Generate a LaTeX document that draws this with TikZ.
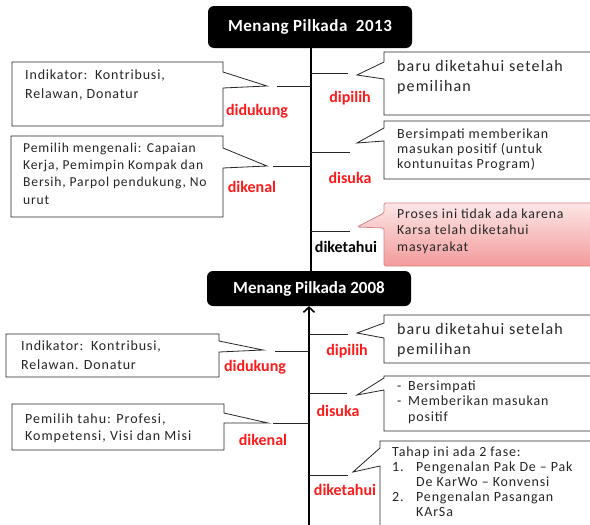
\documentclass[tikz,border=0pt]{standalone}
\usepackage{fontspec}
\setmainfont{Carlito}
\newfontfamily\spacedfont[LetterSpace=6]{Carlito}
\newfontfamily\widefont[LetterSpace=7]{Carlito}
\newfontfamily\titlefont[LetterSpace=3]{Carlito}
\newfontfamily\serifpart{Liberation Serif}
\usetikzlibrary{arrows.meta}
\definecolor{inkgray}{HTML}{262626}
\definecolor{labelred}{HTML}{FF1A1A}
\definecolor{pinktop}{HTML}{FDE6E6}
\definecolor{pinkbottom}{HTML}{F29B9B}
\definecolor{pinkedge}{HTML}{D98486}
\begin{document}
\begin{tikzpicture}[x=1pt,y=-1pt,
  callbox/.style={draw=inkgray, line width=0.8pt, fill=white},
  pinkbox/.style={draw=pinkedge, line width=0.8pt, top color=pinktop, bottom color=pinkbottom},
  boxtext/.style={anchor=north west, inner sep=0pt, align=left, text=inkgray, font=\spacedfont\fontsize{14}{17}\selectfont},
  bigtext/.style={boxtext, font=\widefont\fontsize{16}{20}\selectfont},
  redlabel/.style={text=labelred, font=\bfseries\fontsize{16}{16}\selectfont, inner sep=0pt},
  blacklabel/.style={redlabel, text=black},
  branch/.style={draw=inkgray, line width=0.9pt},
  spine/.style={draw=black, line width=2.2pt},
  titlebox/.style={fill=black, rounded corners=6pt, text=white, inner sep=0pt,
    font=\bfseries\fontsize{17}{18}\selectfont},
]
\useasboundingbox (0,0) rectangle (590,525);
\clip (0,0) rectangle (590,525);

% fragment of the line above
\node[font=\serifpart\fontsize{18}{18}\selectfont, inner sep=0pt] (gfrag) at (134,-7) {g};

% ---------- title boxes ----------
\node[titlebox, minimum width=204, minimum height=42] (t2013) at (310,27) {\titlefont Menang Pilkada\enspace 2013};
\node[titlebox, minimum width=204, minimum height=35] (t2008) at (309,288.5) {Menang Pilkada 2008};

% ---------- spines ----------
\coordinate (upTop) at (311,48);
\coordinate (upBot) at (311,271);
\coordinate (loBot) at (309,530);
\draw[spine] (upTop) -- (upBot);
\draw[spine, -{Straight Barb[length=5pt,width=11pt,line width=1.6pt]}] (loBot) -- (t2008.south);

% ---------- upper section: branches ----------
\coordinate (a1) at (311,86);  \coordinate (a1e) at (277,86);
\coordinate (a2) at (311,166); \coordinate (a2e) at (273,166);
\coordinate (a3) at (311,73);  \coordinate (a3e) at (348,73);
\coordinate (a4) at (311,152); \coordinate (a4e) at (350,152);
\coordinate (a5) at (311,231); \coordinate (a5e) at (350,231);
\foreach \s in {1,...,5} \draw[branch] (a\s) -- (a\s e);

% ---------- upper section: callouts ----------
\draw[callbox] (12,62) -- (223,62) -- (223,72) -- (267,86) -- (223,88) -- (223,126) -- (12,126) -- cycle;
\node[boxtext, font=\spacedfont\fontsize{14}{19}\selectfont] (u1) at (25,70) {Indikator:\, Kontribusi,\\Relawan, Donatur};

\draw[callbox] (11,136) -- (223,136) -- (223,148) -- (267,166) -- (223,168) -- (223,217) -- (11,217) -- cycle;
\node[boxtext, font=\spacedfont\fontsize{13.6}{17.3}\selectfont] (u2) at (23,142.5) {Pemilih mengenali: Capaian\\Kerja, Pemimpin Kompak dan\\Bersih, Parpol pendukung, No\\urut};

\draw[callbox] (600,52) -- (384,52) -- (384,62) -- (357,75) -- (384,79) -- (384,115) -- (600,115);
\node[bigtext] (u3) at (397,60) {baru diketahui setelah\\pemilihan};

\draw[callbox] (600,121) -- (384,121) -- (384,128) -- (357,143) -- (384,141) -- (384,179) -- (600,179);
\node[boxtext, font=\spacedfont\fontsize{14}{15}\selectfont] (u4) at (397,128.5) {Bersimpati memberikan\\masukan positif (untuk\\kontunuitas Program)};

\draw[pinkbox, rounded corners=1.5pt] (600,203) -- (384,203) -- (384,213) -- (357,227) -- (384,228) -- (384,266) -- (600,266);
\node[boxtext, font=\spacedfont\fontsize{13.8}{16.5}\selectfont] (u5) at (397,208.5) {Proses ini tidak ada karena\\Karsa telah diketahui\\masyarakat};

% ---------- upper section: labels ----------
\node[redlabel] (lDidukungA) at (257,111) {didukung};
\node[redlabel] (lDipilihA) at (350,98) {dipilih};
\node[redlabel] (lDikenalA) at (252,187) {dikenal};
\node[redlabel] (lDisukaA) at (350,178) {disuka};
\node[blacklabel] (lDiketahuiA) at (346,247) {diketahui};

% ---------- lower section: branches ----------
\coordinate (b1) at (309,351); \coordinate (b1e) at (275,351);
\coordinate (b2) at (309,423); \coordinate (b2e) at (273,423);
\coordinate (b3) at (309,334); \coordinate (b3e) at (348,334);
\coordinate (b4) at (309,393); \coordinate (b4e) at (347,393);
\coordinate (b5) at (309,475); \coordinate (b5e) at (348,475);
\foreach \s in {1,...,5} \draw[branch] (b\s) -- (b\s e);

% ---------- lower section: callouts ----------
\draw[callbox] (6,334) -- (219,334) -- (219,341) -- (263,350) -- (219,352) -- (219,377) -- (6,377) -- cycle;
\node[boxtext, font=\spacedfont\fontsize{14}{19}\selectfont] (d1) at (21,341) {Indikator:\, Kontribusi,\\Relawan. Donatur};

\draw[callbox] (12,404) -- (224,404) -- (224,413) -- (268,423) -- (224,423) -- (224,450) -- (12,450) -- cycle;
\node[boxtext, font=\widefont\fontsize{14}{17}\selectfont] (d2) at (25,414) {Pemilih tahu: Profesi,\\Kompetensi, Visi dan Misi};

\draw[callbox] (600,315) -- (384,315) -- (384,323) -- (357,333) -- (384,338) -- (384,363) -- (600,363);
\node[bigtext] (d3) at (397,323) {baru diketahui setelah\\pemilihan};

\draw[callbox] (600,376) -- (384,376) -- (384,378) -- (357,395) -- (384,390) -- (384,431) -- (600,431);
\node[boxtext, font=\spacedfont\fontsize{14}{15.5}\selectfont] (d4) at (397,380.5)
  {\makebox[11pt][l]{-}Bersimpati\\\makebox[11pt][l]{-}Memberikan masukan\\\makebox[11pt][l]{}positif};

\draw[callbox] (600,441) -- (380,441) -- (380,448) -- (353,472) -- (380,466) -- (380,540) -- (600,540);
\node[boxtext, font=\spacedfont\fontsize{14}{15}\selectfont] (d5) at (392,446.5)
  {Tahap ini ada 2 fase:\\\makebox[24pt][l]{1.}Pengenalan Pak De \textendash{} Pak\\\makebox[24pt][l]{}De KarWo \textendash{} Konvensi\\\makebox[24pt][l]{2.}Pengenalan Pasangan\\\makebox[24pt][l]{}KArSa};

% ---------- lower section: labels ----------
\node[redlabel] (lDidukungB) at (255,367) {didukung};
\node[redlabel] (lDipilihB) at (347,351) {dipilih};
\node[redlabel] (lDikenalB) at (263,440) {dikenal};
\node[redlabel] (lDisukaB) at (338,411) {disuka};
\node[redlabel] (lDiketahuiB) at (345,490) {diketahui};
\end{tikzpicture}
\end{document}
